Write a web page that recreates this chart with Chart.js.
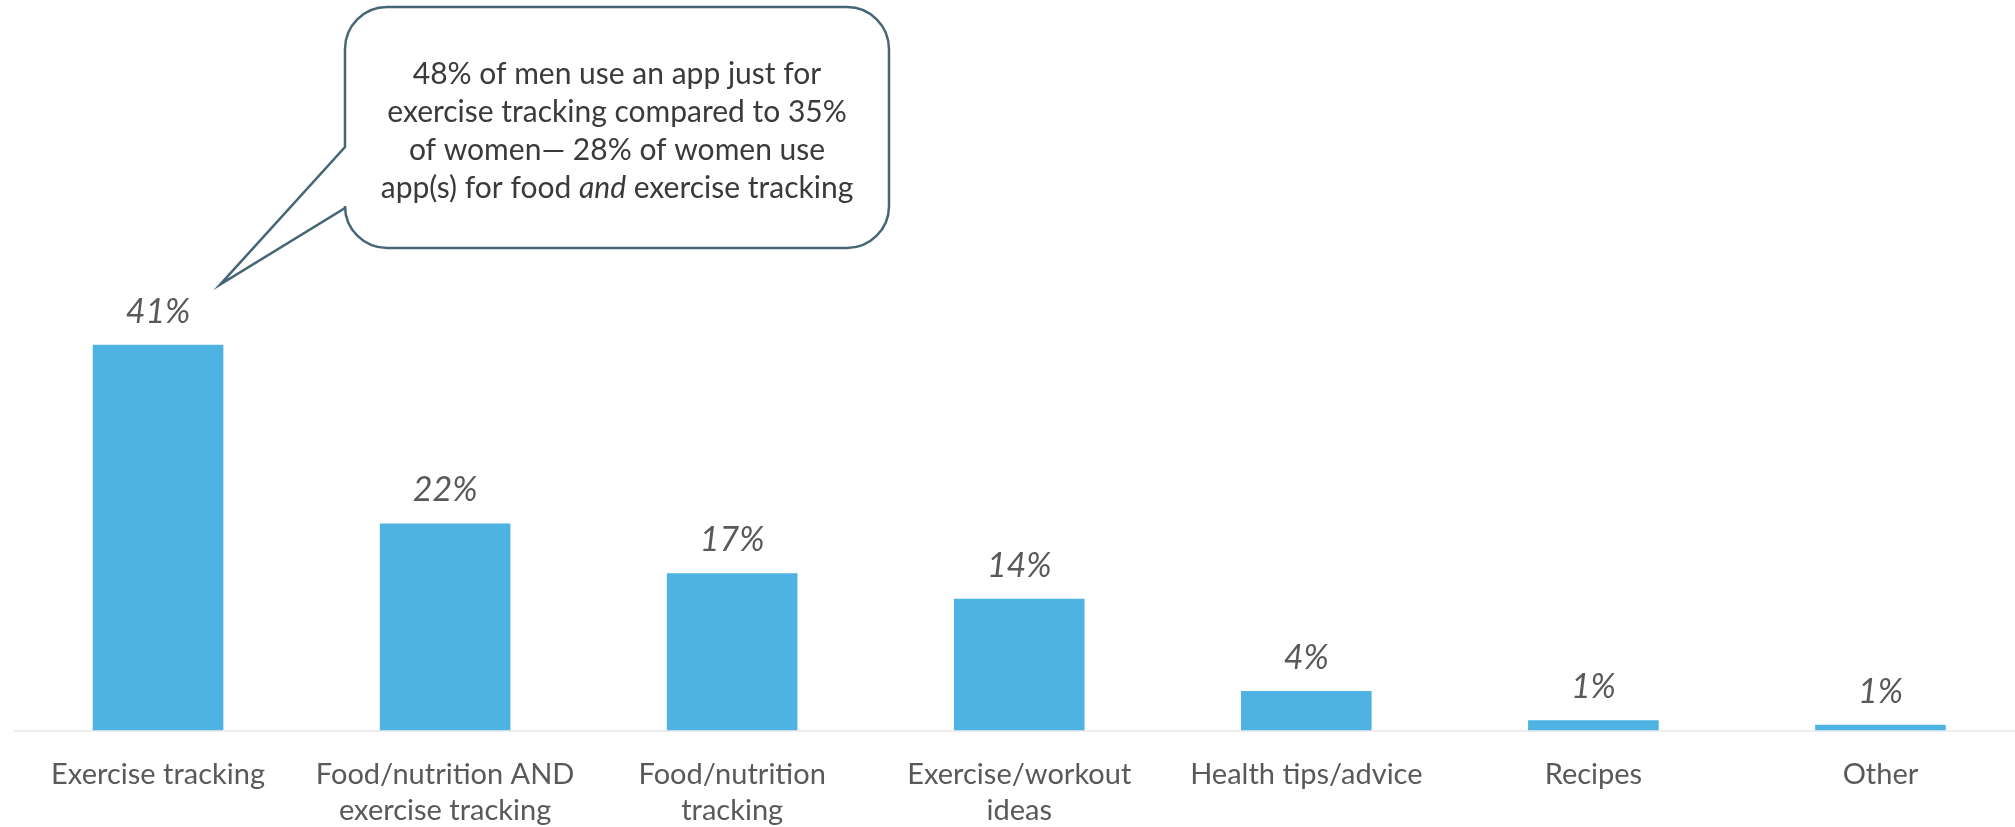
<!DOCTYPE html>
<html>
<head>
<meta charset="utf-8">
<script src="https://cdn.jsdelivr.net/npm/chart.js@4"></script>
<style>
  html, body { margin: 0; padding: 0; background: #fff; overflow: hidden; }
  #wrap { width: 2024px; height: 855px; position: relative; }
</style>
</head>
<body>
<div id="wrap"><canvas id="appChart"></canvas></div>
<script>
const categories = [
    ['Exercise tracking'],
    ['Food/nutrition AND', 'exercise tracking'],
    ['Food/nutrition', 'tracking'],
    ['Exercise/workout', 'ideas'],
    ['Health tips/advice'],
    ['Recipes'],
    ['Other']
];
const shares = [41, 22, 16.7, 14, 4.2, 1.1, 0.6];
const valueLabels = ['41%', '22%', '17%', '14%', '4%', '1%', '1%'];
const calloutLines = [
    '48% of men use an app just for',
    'exercise tracking compared to 35%',
    'of women\u2014 28% of women use'
];
const calloutLast = ['app(s) for food ', 'and', ' exercise tracking'];

const barColor = '#4EB3E3';
const textGray = '#595959';

// value labels above each bar
const valueLabelPlugin = {
    id: 'valueLabels',
    afterDatasetsDraw(chart) {
        const ctx = chart.ctx;
        const meta = chart.getDatasetMeta(0);
        ctx.save();
        ctx.font = 'italic 34px Lato';
        ctx.fillStyle = textGray;
        ctx.textAlign = 'center';
        ctx.textBaseline = 'middle';
        meta.data.forEach((bar, i) => {
            ctx.fillText(valueLabels[i], bar.x, bar.y - 33);
        });
        ctx.restore();
    }
};

// speech bubble pointing at the first bar
const calloutPlugin = {
    id: 'callout',
    afterDraw(chart) {
        const ctx = chart.ctx;
        const xs = chart.scales.x, ys = chart.scales.y;
        const tipX = xs.getPixelForValue(0) + 62;
        const tipY = ys.getPixelForValue(shares[0]) - 60;
        const L = 345, R = 889, T = 7, B = 248, r = 42;
        const tailTop = 147, tailBot = 208;

        ctx.save();
        ctx.beginPath();
        ctx.moveTo(L, tailTop);
        ctx.lineTo(L, T + r);
        ctx.arcTo(L, T, L + r, T, r);
        ctx.lineTo(R - r, T);
        ctx.arcTo(R, T, R, T + r, r);
        ctx.lineTo(R, B - r);
        ctx.arcTo(R, B, R - r, B, r);
        ctx.lineTo(L + r, B);
        ctx.arcTo(L, B, L, B - r, r);
        ctx.lineTo(L, tailBot);
        ctx.lineTo(tipX, tipY);
        ctx.closePath();
        ctx.fillStyle = '#fff';
        ctx.fill();
        ctx.lineWidth = 2.5;
        ctx.strokeStyle = '#466676';
        ctx.stroke();

        const cx = (L + R) / 2;
        ctx.fillStyle = '#3a3a3a';
        ctx.textBaseline = 'middle';
        ctx.textAlign = 'center';
        const normal = '30px Lato', italic = 'italic 30px Lato';
        ctx.font = normal;
        const ys0 = [74, 112, 150, 188];
        calloutLines.forEach((line, i) => ctx.fillText(line, cx, ys0[i]));

        // last line has an italic word in the middle
        const w0 = ctx.measureText(calloutLast[0]).width;
        const w2 = ctx.measureText(calloutLast[2]).width;
        ctx.font = italic;
        const w1 = ctx.measureText(calloutLast[1]).width;
        let x = cx - (w0 + w1 + w2) / 2;
        ctx.textAlign = 'left';
        ctx.font = normal;
        ctx.fillText(calloutLast[0], x, ys0[3]);
        x += w0;
        ctx.font = italic;
        ctx.fillText(calloutLast[1], x, ys0[3]);
        x += w1;
        ctx.font = normal;
        ctx.fillText(calloutLast[2], x, ys0[3]);
        ctx.restore();
    }
};

const ctx1 = document.getElementById('appChart').getContext('2d');
const appChart = new Chart(ctx1, {
    type: 'bar',
    data: {
        labels: categories,
        datasets: [{
            data: shares,
            backgroundColor: barColor,
            borderWidth: 0,
            categoryPercentage: 1,
            barPercentage: 0.455
        }]
    },
    options: {
        responsive: true,
        maintainAspectRatio: false,
        animation: false,
        layout: {
            padding: { left: 14.5, right: 0, top: 260, bottom: 0 }
        },
        plugins: {
            legend: { display: false },
            tooltip: { enabled: false }
        },
        scales: {
            x: {
                grid: { display: false, drawTicks: false },
                border: { display: true, color: '#ededed', width: 2 },
                ticks: {
                    color: textGray,
                    font: { family: 'Lato', size: 29, lineHeight: 1.25 },
                    padding: 26,
                    maxRotation: 0,
                    autoSkip: false
                }
            },
            y: {
                display: false,
                min: 0,
                max: 50
            }
        }
    },
    plugins: [valueLabelPlugin, calloutPlugin]
});
</script>
</body>
</html>
